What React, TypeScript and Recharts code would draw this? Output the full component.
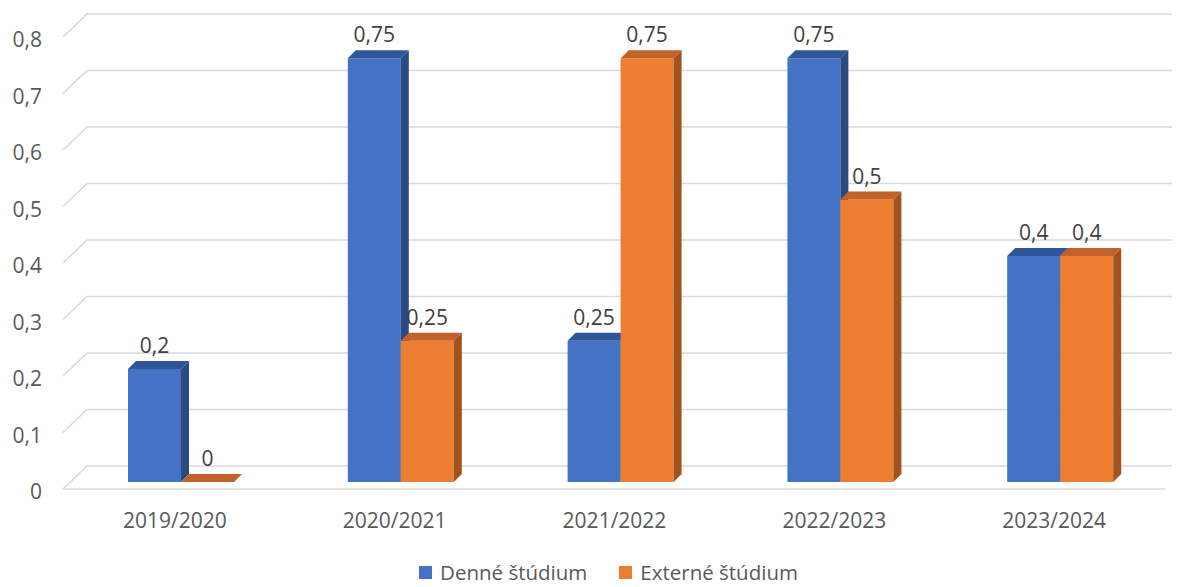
import React from 'react';
import { BarChart, Bar, XAxis, YAxis, CartesianGrid, LabelList } from 'recharts';

const categories = ['2019/2020', '2020/2021', '2021/2022', '2022/2023', '2023/2024'];
const denne = [0.2, 0.75, 0.25, 0.75, 0.4];
const externe = [0, 0.25, 0.75, 0.5, 0.4];
const yTicks = [0, 0.1, 0.2, 0.3, 0.4, 0.5, 0.6, 0.7, 0.8];
const seriesNames = ['Denné štúdium', 'Externé štúdium'];

const data = categories.map((c, i) => ({ cat: c, denne: denne[i], externe: externe[i] }));

const FONT = "'Open Sans', sans-serif";
const AXIS_COLOR = '#595959';
const LABEL_COLOR = '#404040';
const GRID = '#D9D9D9';
const DEPTH = 8;

const COLORS = {
  denne: { front: '#4472C4', top: '#30569A', side: '#2A4A82' },
  externe: { front: '#ED7D31', top: '#C0622A', side: '#A3521D' },
};

const fmt = (v: number) => String(v).replace('.', ',');

const make3DShape = (c: { front: string; top: string; side: string }) => (props: any) => {
  const { x, y, width, height } = props;
  if (x == null || y == null) return <g />;
  const h = Math.max(0, height || 0);
  const d = DEPTH;
  const w = width;
  return (
    <g>
      {h > 0 && <rect x={x} y={y} width={w} height={h} fill={c.front} />}
      <polygon
        points={`${x},${y} ${x + d},${y - d} ${x + w + d},${y - d} ${x + w},${y}`}
        fill={c.top}
      />
      {h > 0 && (
        <polygon
          points={`${x + w},${y} ${x + w + d},${y - d} ${x + w + d},${y + h - d} ${x + w},${y + h}`}
          fill={c.side}
        />
      )}
    </g>
  );
};

const gridLine = (p: any) => {
  const { x1, x2, y1, index } = p;
  const back = y1 - 16;
  const front = y1 + 7;
  const isZero = index === 0 || Math.abs(y1 - 482) < 1;
  return (
    <g key={`g-${index}-${y1}`}>
      <path
        d={`M${x1 - 8},${front} L${x1 + 16},${back} L${x2 + 2},${back}`}
        stroke={GRID}
        strokeWidth={1.6}
        fill="none"
      />
      {isZero && (
        <path d={`M${x1 - 8},${front} L${x2 - 5},${front}`} stroke={GRID} strokeWidth={1.6} fill="none" />
      )}
    </g>
  );
};

const YTick = (props: any) => {
  const { x, y, payload } = props;
  return (
    <text x={x - 21} y={y + 9} textAnchor="end" dominantBaseline="central" fill={AXIS_COLOR} fontSize={21} fontFamily={FONT}>
      {fmt(payload.value)}
    </text>
  );
};

const XTick = (props: any) => {
  const { x, y, payload } = props;
  return (
    <text x={x - 6} y={y + 30} textAnchor="middle" dominantBaseline="central" fill={AXIS_COLOR} fontSize={21} fontFamily={FONT}>
      {payload.value}
    </text>
  );
};

const ValueLabel = (props: any) => {
  const { x, y, width, value } = props;
  return (
    <text x={x + width / 2} y={y - 24} textAnchor="middle" dominantBaseline="central" fill={LABEL_COLOR} fontSize={21} fontFamily={FONT}>
      {fmt(value)}
    </text>
  );
};

const LegendBox = () => (
  <div
    style={{
      position: 'absolute',
      top: 563,
      left: 0,
      width: 1177,
      height: 19,
      overflow: 'visible',
      display: 'flex',
      justifyContent: 'center',
      paddingLeft: 40,
      boxSizing: 'border-box',
      fontFamily: FONT,
      fontSize: 20.5,
      color: AXIS_COLOR,
      lineHeight: '19px',
    }}
  >
    {seriesNames.map((n, i) => (
      <div key={n} style={{ display: 'flex', alignItems: 'center', marginLeft: i === 0 ? 0 : 32 }}>
        <span
          style={{
            display: 'inline-block',
            width: 13,
            height: 13,
            background: i === 0 ? COLORS.denne.front : COLORS.externe.front,
            marginRight: 8,
          }}
        />
        <span>{n}</span>
      </div>
    ))}
  </div>
);

export default function App() {
  return (
    <div style={{ position: 'absolute', left: 0, top: 0, width: 1177, height: 587, background: '#fff' }}>
      <BarChart
        width={1177}
        height={587}
        data={data}
        margin={{ top: 30, right: 7, bottom: 0, left: 11 }}
        barGap={0}
        barSize={53}
      >
        <CartesianGrid vertical={false} horizontal={gridLine as any} />
        <XAxis dataKey="cat" height={105} axisLine={false} tickLine={false} tick={<XTick />} interval={0} />
        <YAxis
          width={60}
          domain={[0, 0.8]}
          ticks={yTicks}
          axisLine={false}
          tickLine={false}
          tick={<YTick />}
          interval={0}
        />
        <Bar dataKey="denne" isAnimationActive={false} shape={make3DShape(COLORS.denne)}>
          <LabelList dataKey="denne" content={<ValueLabel />} />
        </Bar>
        <Bar dataKey="externe" isAnimationActive={false} shape={make3DShape(COLORS.externe)}>
          <LabelList dataKey="externe" content={<ValueLabel />} />
        </Bar>
      </BarChart>
      <LegendBox />
    </div>
  );
}
